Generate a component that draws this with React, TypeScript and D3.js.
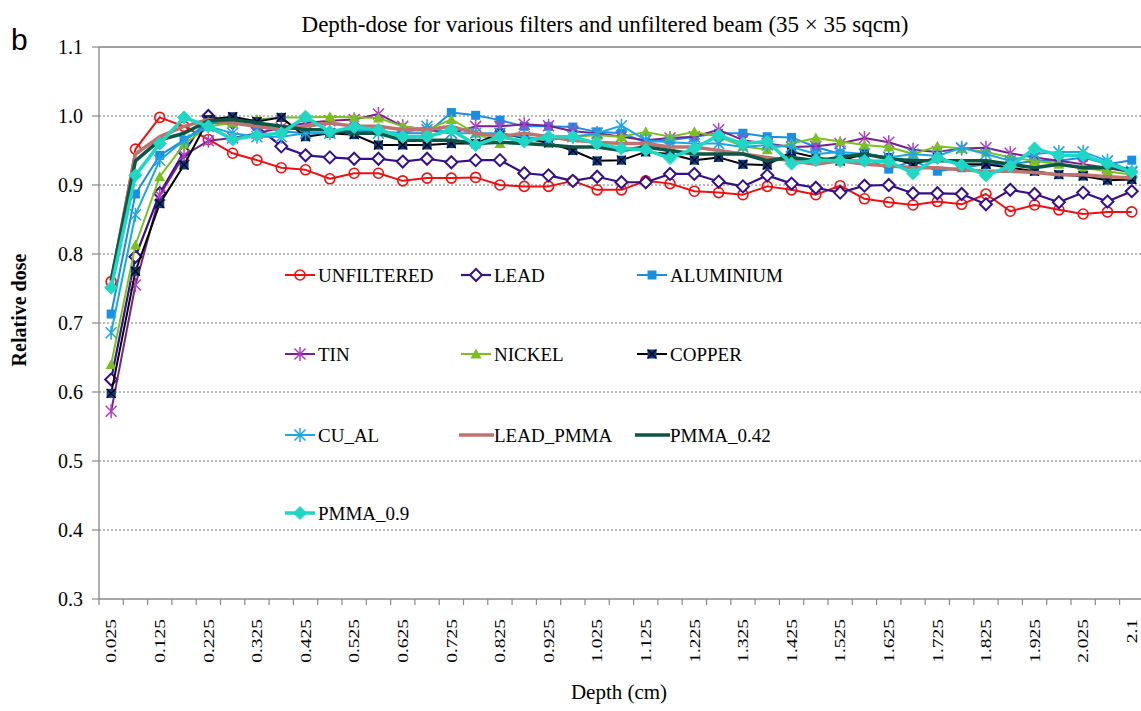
import React from 'react';
import * as d3 from 'd3';

const categories = ['0.025','0.075','0.125','0.175','0.225','0.275','0.325','0.375','0.425','0.475','0.525','0.575','0.625','0.675','0.725','0.775','0.825','0.875','0.925','0.975','1.025','1.075','1.125','1.175','1.225','1.275','1.325','1.375','1.425','1.475','1.525','1.575','1.625','1.675','1.725','1.775','1.825','1.875','1.925','1.975','2.025','2.075','2.1'];

const unfiltered = [0.76,0.952,0.998,0.985,0.966,0.946,0.936,0.925,0.922,0.909,0.917,0.917,0.906,0.910,0.910,0.911,0.900,0.898,0.898,0.906,0.893,0.893,0.906,0.902,0.891,0.889,0.886,0.898,0.893,0.886,0.899,0.880,0.875,0.871,0.876,0.872,0.887,0.862,0.871,0.864,0.858,0.861,0.861];
const lead = [0.618,0.796,0.888,0.948,1.0,0.99,0.985,0.956,0.943,0.940,0.938,0.938,0.934,0.938,0.933,0.936,0.936,0.917,0.914,0.906,0.912,0.904,0.904,0.916,0.916,0.905,0.898,0.914,0.902,0.896,0.889,0.899,0.900,0.888,0.888,0.887,0.872,0.893,0.887,0.875,0.889,0.876,0.891];
const aluminium = [0.713,0.887,0.943,0.965,0.99,0.99,0.985,0.978,0.975,0.975,0.98,0.978,0.975,0.975,1.005,1.001,0.994,0.985,0.985,0.984,0.977,0.975,0.962,0.965,0.97,0.975,0.975,0.97,0.969,0.955,0.945,0.94,0.923,0.935,0.92,0.925,0.93,0.93,0.935,0.935,0.94,0.93,0.936];
const tin = [0.572,0.755,0.885,0.943,0.964,0.968,0.975,0.983,0.99,0.993,0.995,1.003,0.985,0.98,0.975,0.985,0.985,0.988,0.986,0.978,0.975,0.97,0.965,0.968,0.97,0.98,0.965,0.96,0.955,0.956,0.96,0.968,0.962,0.951,0.948,0.953,0.954,0.946,0.94,0.935,0.93,0.925,0.918];
const nickel = [0.64,0.813,0.912,0.959,0.985,0.99,0.995,0.998,0.998,0.999,0.998,0.997,0.985,0.98,0.995,0.975,0.96,0.965,0.97,0.97,0.972,0.97,0.977,0.97,0.977,0.97,0.956,0.951,0.96,0.968,0.963,0.958,0.955,0.945,0.956,0.953,0.948,0.94,0.935,0.93,0.925,0.92,0.915];
const copper = [0.598,0.775,0.873,0.929,0.995,0.999,0.992,0.998,0.97,0.975,0.973,0.958,0.958,0.958,0.96,0.96,0.975,0.968,0.961,0.95,0.935,0.936,0.948,0.945,0.936,0.94,0.93,0.929,0.948,0.94,0.935,0.945,0.94,0.93,0.94,0.93,0.93,0.925,0.92,0.915,0.913,0.907,0.908];
const cuAl = [0.686,0.857,0.936,0.965,0.985,0.975,0.97,0.97,0.975,0.975,0.98,0.975,0.975,0.985,0.975,0.975,0.975,0.97,0.965,0.97,0.975,0.986,0.965,0.962,0.96,0.96,0.955,0.958,0.955,0.945,0.948,0.945,0.94,0.945,0.942,0.954,0.945,0.935,0.945,0.948,0.948,0.935,0.92];
const leadPmma = [0.76,0.945,0.97,0.985,0.995,0.99,0.985,0.98,0.985,0.99,0.985,0.985,0.98,0.98,0.985,0.975,0.97,0.975,0.97,0.965,0.962,0.96,0.96,0.955,0.955,0.95,0.945,0.94,0.935,0.93,0.935,0.93,0.928,0.925,0.925,0.922,0.92,0.92,0.918,0.915,0.915,0.912,0.91];
const pmma042 = [0.762,0.935,0.965,0.975,0.993,0.995,0.99,0.985,0.98,0.98,0.975,0.975,0.965,0.965,0.965,0.96,0.962,0.96,0.958,0.955,0.955,0.95,0.955,0.95,0.945,0.945,0.945,0.935,0.94,0.935,0.94,0.945,0.938,0.935,0.935,0.935,0.935,0.93,0.925,0.93,0.925,0.925,0.922];
const pmma09 = [0.751,0.914,0.96,0.998,0.985,0.966,0.972,0.975,0.999,0.977,0.984,0.98,0.97,0.97,0.98,0.958,0.97,0.963,0.97,0.97,0.96,0.953,0.951,0.939,0.953,0.972,0.96,0.963,0.931,0.936,0.935,0.935,0.934,0.917,0.939,0.929,0.914,0.927,0.953,0.943,0.943,0.931,0.919];

const yTicks = [0.3,0.4,0.5,0.6,0.7,0.8,0.9,1.0,1.1];

type Marker = 'circle' | 'diamondOpen' | 'square' | 'star' | 'triangle' | 'squareX' | 'none' | 'diamond';
interface Series { name: string; values: number[]; color: string; markerColor: string; width: number; marker: Marker; }

const series: Series[] = [
  { name: 'UNFILTERED', values: unfiltered, color: '#ee1111', markerColor: '#ee1111', width: 2, marker: 'circle' },
  { name: 'LEAD', values: lead, color: '#35108a', markerColor: '#35108a', width: 2.2, marker: 'diamondOpen' },
  { name: 'ALUMINIUM', values: aluminium, color: '#1a8ee0', markerColor: '#1a8ee0', width: 2, marker: 'square' },
  { name: 'TIN', values: tin, color: '#7a1f8e', markerColor: '#b03cc8', width: 2, marker: 'star' },
  { name: 'NICKEL', values: nickel, color: '#7cc020', markerColor: '#7cc020', width: 2, marker: 'triangle' },
  { name: 'COPPER', values: copper, color: '#000000', markerColor: '#0a3a8a', width: 2, marker: 'squareX' },
  { name: 'CU_AL', values: cuAl, color: '#1ca6e2', markerColor: '#1ca6e2', width: 2, marker: 'star' },
  { name: 'LEAD_PMMA', values: leadPmma, color: '#c0736e', markerColor: '#c0736e', width: 3.5, marker: 'none' },
  { name: 'PMMA_0.42', values: pmma042, color: '#0c5646', markerColor: '#0c5646', width: 3.5, marker: 'none' },
  { name: 'PMMA_0.9', values: pmma09, color: '#1ed8c6', markerColor: '#1ed8c6', width: 3.5, marker: 'diamond' },
];

const SERIF = '"Liberation Serif", "Times New Roman", serif';

function MarkerShape({ type, x, y, color }: { type: Marker; x: number; y: number; color: string }) {
  const t = `translate(${x},${y})`;
  switch (type) {
    case 'circle':
      return <circle cx={x} cy={y} r={5} fill="none" stroke={color} strokeWidth={1.6} />;
    case 'diamondOpen':
      return <path transform={t} d="M0,-6L6,0L0,6L-6,0Z" fill="#ffffff" stroke={color} strokeWidth={2} />;
    case 'diamond':
      return <path transform={t} d="M0,-6.5L6.5,0L0,6.5L-6.5,0Z" fill={color} stroke={color} strokeWidth={1} />;
    case 'square':
      return <rect x={x - 4.5} y={y - 4.5} width={9} height={9} fill={color} />;
    case 'squareX':
      return (
        <g transform={t}>
          <rect x={-4.5} y={-4.5} width={9} height={9} fill={color} />
          <path d="M-4.5,-4.5L4.5,4.5M-4.5,4.5L4.5,-4.5" stroke="#000" strokeWidth={1.3} />
        </g>
      );
    case 'triangle':
      return <path transform={t} d="M0,-5.5L5.5,4.5L-5.5,4.5Z" fill={color} />;
    case 'star':
      return <path transform={t} d="M0,-7L0,7M-5.5,-5.5L5.5,5.5M-5.5,5.5L5.5,-5.5" stroke={color} strokeWidth={1.5} fill="none" />;
    default:
      return null;
  }
}

export default function App() {
  const W = 1141, H = 711;
  const left = 99, bandW = 24.3;
  const x = d3.scaleBand<string>().domain(categories).range([left, left + bandW * categories.length]).padding(0);
  const y = d3.scaleLinear().domain([0.3, 1.1]).range([599, 47]);
  const cx = (c: string) => (x(c) as number) + x.bandwidth() / 2;
  const line = d3.line<number>().x((_, i) => cx(categories[i])).y(d => y(d));
  const right = W;

  const legendCols = [285, 461, 637];
  const legendRows = [275, 354, 435, 513];

  return (
    <svg width={W} height={H} style={{ position: 'absolute', left: 0, top: 0, background: '#fff' }}>
      <rect width={W} height={H} fill="#fff" />
      <text x={11} y={50} fontFamily='"Liberation Sans", Arial, sans-serif' fontSize={30}>b</text>
      <text x={605} y={32} textAnchor="middle" fontFamily={SERIF} fontSize={23}>Depth-dose for various filters and unfiltered beam (35 × 35 sqcm)</text>

      {/* gridlines */}
      {yTicks.filter(v => v > 0.35 && v < 1.05).map(v => (
        <line key={'g' + v} x1={left} x2={right} y1={y(v)} y2={y(v)} stroke="#777" strokeWidth={1} strokeDasharray="2,2" />
      ))}
      <line x1={left} x2={right} y1={y(1.1)} y2={y(1.1)} stroke="#444" strokeWidth={1.2} />

      {/* y axis */}
      <line x1={left} x2={left} y1={y(1.1)} y2={y(0.3)} stroke="#888" strokeWidth={1.3} />
      {yTicks.map(v => (
        <g key={'yt' + v}>
          <line x1={left - 7} x2={left} y1={y(v)} y2={y(v)} stroke="#888" strokeWidth={1.2} />
          <text x={83} y={y(v)} dy="0.35em" textAnchor="end" fontFamily={SERIF} fontSize={20}>{v.toFixed(1)}</text>
        </g>
      ))}
      <text transform={`translate(26,310) rotate(-90)`} textAnchor="middle" fontFamily={SERIF} fontSize={20} fontWeight="bold">Relative dose</text>

      {/* x axis */}
      <line x1={left} x2={right} y1={y(0.3)} y2={y(0.3)} stroke="#888" strokeWidth={1.3} />
      {categories.map((c, i) => (
        <line key={'xt' + i} x1={x(c) as number} x2={x(c) as number} y1={599} y2={605} stroke="#888" strokeWidth={1.2} />
      ))}
      {categories.map((c, i) => i % 2 === 0 ? (
        <text key={'xl' + i} transform={`translate(${cx(c)},619) rotate(-90) scale(1.3,1)`} dy="0.35em" textAnchor="end" fontFamily={SERIF} fontSize={15}>{c}</text>
      ) : null)}
      <text x={619} y={699} textAnchor="middle" fontFamily={SERIF} fontSize={21}>Depth (cm)</text>

      {/* series */}
      {series.map(s => (
        <g key={s.name}>
          <path d={line(s.values.slice(0, categories.length)) || ''} fill="none" stroke={s.color} strokeWidth={s.width} strokeLinejoin="round" />
          {s.values.slice(0, categories.length).map((v, i) => (
            <MarkerShape key={i} type={s.marker} x={cx(categories[i])} y={y(v)} color={s.markerColor} />
          ))}
        </g>
      ))}

      {/* legend */}
      {series.map((s, k) => {
        const lx = legendCols[k % 3];
        const ly = legendRows[Math.floor(k / 3)];
        const noMarker = s.marker === 'none';
        const x1 = noMarker ? lx - 2 : lx;
        const x2 = noMarker ? lx + 33 : lx + 30;
        return (
          <g key={'lg' + s.name}>
            <line x1={x1} x2={x2} y1={ly} y2={ly} stroke={s.color} strokeWidth={s.width} />
            <MarkerShape type={s.marker} x={lx + 15} y={ly} color={s.markerColor} />
            <text x={lx + 33} y={ly} dy="0.35em" fontFamily={SERIF} fontSize={19}>{s.name}</text>
          </g>
        );
      })}
    </svg>
  );
}
